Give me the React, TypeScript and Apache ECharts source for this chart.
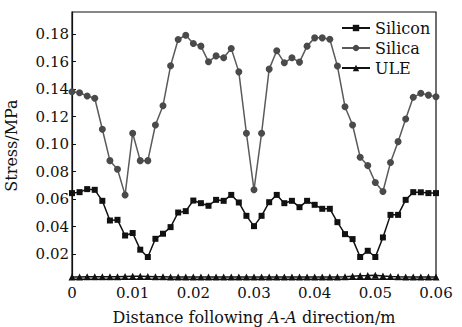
import React, { useEffect, useRef } from "react";
import * as echarts from "echarts";

const distance = [
  0, 0.00125, 0.0025, 0.00375, 0.005, 0.00625, 0.0075, 0.00875, 0.01, 0.01125,
  0.0125, 0.01375, 0.015, 0.01625, 0.0175, 0.01875, 0.02, 0.02125, 0.0225, 0.02375,
  0.025, 0.02625, 0.0275, 0.02875, 0.03, 0.03125, 0.0325, 0.03375, 0.035, 0.03625,
  0.0375, 0.03875, 0.04, 0.04125, 0.0425, 0.04375, 0.045, 0.04625, 0.0475, 0.04875,
  0.05, 0.05125, 0.0525, 0.05375, 0.055, 0.05625, 0.0575, 0.05875, 0.06,
];

const silicon = [
  0.0644, 0.0651, 0.0673, 0.0668, 0.0588, 0.0445, 0.045, 0.0336, 0.0354, 0.0233,
  0.018, 0.0312, 0.0349, 0.0397, 0.0503, 0.0513, 0.059, 0.0571, 0.0552, 0.0595,
  0.0588, 0.0631, 0.0576, 0.0479, 0.0404, 0.0479, 0.0578, 0.0631, 0.0571, 0.0588,
  0.0542, 0.0588, 0.0559, 0.053, 0.053, 0.0433, 0.0346, 0.031, 0.018, 0.0225,
  0.018, 0.0322, 0.0486, 0.0486, 0.0595, 0.0651, 0.065, 0.0644, 0.0644,
];

const silica = [
  0.138, 0.1373, 0.135, 0.1333, 0.1108, 0.088, 0.0818, 0.0631, 0.1079, 0.088,
  0.088, 0.1139, 0.1279, 0.1569, 0.176, 0.1791, 0.1731, 0.1712, 0.1598, 0.1641,
  0.1627, 0.1695, 0.1525, 0.1079, 0.0668, 0.1079, 0.1545, 0.1678, 0.1591, 0.1627,
  0.1596, 0.1712, 0.1772, 0.1772, 0.1762, 0.1567, 0.1272, 0.1139, 0.0905, 0.0844,
  0.0721, 0.0656, 0.0866, 0.1018, 0.1182, 0.134, 0.1369, 0.1356, 0.1344,
];

const ule = [
  0.0035, 0.0035, 0.0036, 0.0036, 0.0036, 0.0036, 0.0037, 0.0039, 0.004, 0.004,
  0.0039, 0.0037, 0.0036, 0.0035, 0.0035, 0.0035, 0.0035, 0.0035, 0.0035, 0.0035,
  0.0035, 0.0035, 0.0035, 0.0035, 0.0035, 0.0035, 0.0035, 0.0035, 0.0035, 0.0035,
  0.0035, 0.0035, 0.0035, 0.0035, 0.0035, 0.0035, 0.0037, 0.004, 0.0043, 0.0045,
  0.0048, 0.0042, 0.0038, 0.0036, 0.0035, 0.0035, 0.0035, 0.0035, 0.0035,
];

const yTicks = [0.02, 0.04, 0.06, 0.08, 0.1, 0.12, 0.14, 0.16, 0.18];

const FONT = "DejaVu Serif";

export default function App() {
  const ref = useRef<HTMLDivElement>(null);
  useEffect(() => {
    if (!ref.current) return;
    const chart = echarts.init(ref.current, null, { renderer: "svg" });
    const pair = (arr: number[]) => arr.map((v, i) => [distance[i], v]);
    chart.setOption({
      animation: false,
      backgroundColor: "#fff",
      grid: {
        left: 72,
        top: 12,
        right: 26,
        bottom: 48,
        outerBoundsMode: "none",
        containLabel: false,
        show: true,
        borderColor: "#111",
        borderWidth: 1.2,
      },
      legend: {
        orient: "vertical",
        left: 341,
        top: 20,
        padding: 0,
        itemWidth: 28,
        itemHeight: 8,
        itemGap: 4,
        textStyle: { fontFamily: FONT, fontSize: 16, color: "#111" },
        data: ["Silicon", "Silica", "ULE"],
      },
      xAxis: {
        type: "value",
        min: 0,
        max: 0.06,
        interval: 0.01,
        name: "Distance following {i|A-A} direction/m",
        nameLocation: "middle",
        nameGap: 30,
        nameTextStyle: {
          fontFamily: FONT,
          fontSize: 16,
          color: "#111",
          rich: { i: { fontFamily: FONT, fontSize: 16, fontStyle: "italic", color: "#111" } },
        },
        axisLine: { lineStyle: { color: "#111", width: 1.2 } },
        axisTick: { show: false },
        splitLine: { show: false },
        axisLabel: {
          fontFamily: FONT,
          fontSize: 15,
          color: "#111",
          margin: 6,
          formatter: (v: number) => (v === 0 ? "0" : v.toFixed(2)),
        },
      },
      yAxis: {
        type: "value",
        min: 0.002,
        max: 0.196,
        name: "Stress/MPa",
        nameLocation: "middle",
        nameGap: 53,
        nameTextStyle: { fontFamily: FONT, fontSize: 16, color: "#111" },
        axisLine: { lineStyle: { color: "#111", width: 1.2 } },
        axisTick: { show: true, inside: true, length: 4, customValues: yTicks, lineStyle: { color: "#111" } },
        splitLine: { show: false },
        axisLabel: {
          fontFamily: FONT,
          fontSize: 15,
          color: "#111",
          margin: 3,
          customValues: yTicks,
          formatter: (v: number) => v.toFixed(2),
        },
      },
      series: [
        {
          name: "Silicon",
          type: "line",
          data: pair(silicon),
          symbol: "rect",
          symbolSize: 6,
          lineStyle: { color: "#111", width: 1.5 },
          itemStyle: { color: "#111" },
        },
        {
          name: "Silica",
          type: "line",
          data: pair(silica),
          symbol: "circle",
          symbolSize: 7,
          lineStyle: { color: "#5a5a5a", width: 1.5 },
          itemStyle: { color: "#4a4a4a" },
        },
        {
          name: "ULE",
          type: "line",
          data: pair(ule),
          symbol: "triangle",
          symbolSize: 7,
          lineStyle: { color: "#111", width: 1.5 },
          itemStyle: { color: "#111" },
        },
      ],
    });
    return () => chart.dispose();
  }, []);
  return <div ref={ref} style={{ width: 462, height: 327, position: "absolute", left: 0, top: 0 }} />;
}
